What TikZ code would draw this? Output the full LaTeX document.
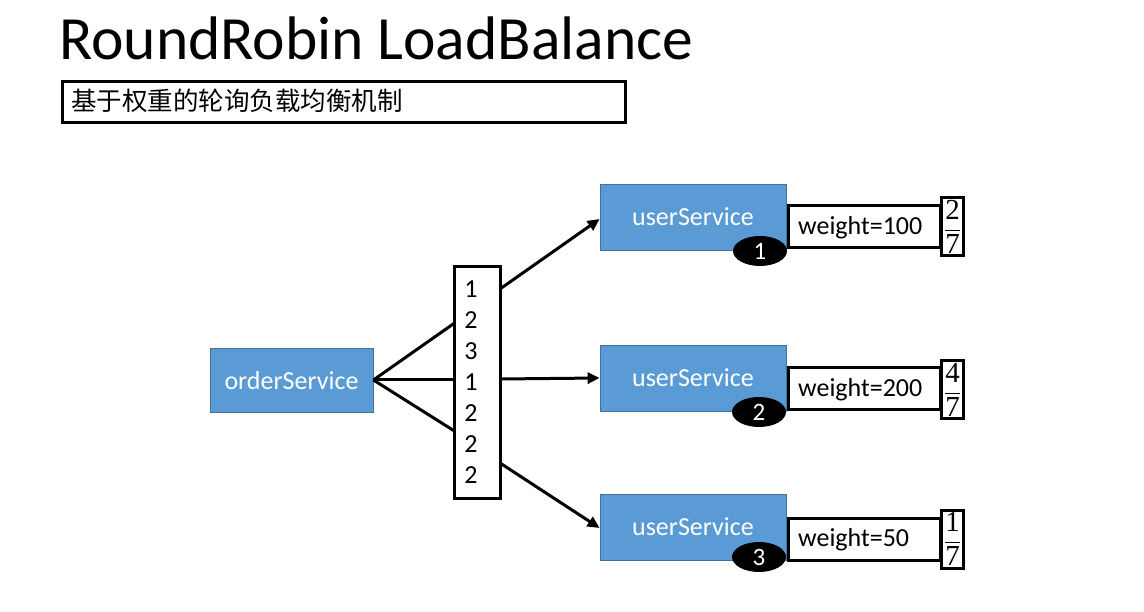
\documentclass[tikz,border=0pt]{standalone}
\usepackage{fontspec}
\setmainfont{Carlito}
\newfontfamily\cjk{Noto Sans CJK SC}
\newfontfamily\fracfont{Liberation Serif}
\usetikzlibrary{shapes.geometric,arrows.meta}
\definecolor{svcblue}{HTML}{5B9BD5}
\definecolor{svcedge}{HTML}{41719C}
\newcommand{\wfrac}[2]{$\displaystyle\frac{\hbox{\fracfont #1}}{\hbox{\fracfont #2}}$}
\begin{document}
\begin{tikzpicture}[x=1pt,y=-1pt,
  svc/.style={draw=svcedge,fill=svcblue,line width=0.8pt,inner sep=0pt},
  svctext/.style={text=white,font=\fontsize{26}{30}\selectfont,inner sep=0pt},
  framebox/.style={draw=black,line width=3pt,inner sep=0pt,fill=white},
  badge/.style={ellipse,fill=black,text=white,minimum width=54pt,minimum height=30pt,inner sep=0pt,font=\fontsize{25}{28}\selectfont},
  conn/.style={line width=3pt},
  arr/.style={line width=3pt,-{Triangle[length=12pt,width=11pt]}},
  num/.style={font=\fontsize{26}{30}\selectfont,inner sep=0pt,anchor=center},
  wtext/.style={font=\fontsize{26}{30}\selectfont,inner sep=0pt,anchor=west},
  frac/.style={framebox,anchor=west,minimum width=22pt,minimum height=58pt,font=\fontsize{29}{32}\selectfont}
]
\useasboundingbox (0,0) rectangle (1144,612);
\fill[white] (0,0) rectangle (1144,612);

% title
\node[anchor=base west,inner sep=0pt,font=\fontsize{61.5}{66}\selectfont] (title) at (59,60) {RoundRobin LoadBalance};

% subtitle box
\node[framebox,anchor=north west,minimum width=563pt,minimum height=41pt] (sub) at (61,80) {};
\node[anchor=west,inner sep=0pt,font=\cjk\fontsize{25.5}{28}\selectfont] (subtext) at (71,101) {基于权重的轮询负载均衡机制};

% order service
\node[svc,minimum width=163pt,minimum height=64pt] (order) at (291.5,380) {};
\node[svctext] (ordertext) at (291.5,381) {orderService};

% connectors behind list
\coordinate (l1) at (456,322);
\coordinate (l2) at (456,380);
\coordinate (l3) at (456,432);
\draw[conn] (order.east) -- (l1);
\draw[conn] (order.east) -- (l2);
\draw[conn] (order.east) -- (l3);

% list box
\node[framebox,minimum width=46pt,minimum height=231pt] (list) at (477,382.5) {};
\foreach \v [count=\i] in {1,2,3,1,2,2,2}{
  \node[num] (n\i) at (471,{258+31*\i}) {\v};
}

% user services
\node[svc,minimum width=186pt,minimum height=66pt] (u1) at (693,217) {};
\node[svc,minimum width=186pt,minimum height=66pt] (u2) at (693,378) {};
\node[svc,minimum width=186pt,minimum height=66pt] (u3) at (693,527) {};
\node[svctext] (t1) at (693,217) {userService};
\node[svctext] (t2) at (693,378) {userService};
\node[svctext] (t3) at (693,527) {userService};

% arrows from list
\coordinate (r1) at (500,289);
\coordinate (r2) at (500,379);
\coordinate (r3) at (500,463);
\draw[arr] (r1) -- (u1.west |- 0,219);
\draw[arr] (r2) -- (u2.west);
\draw[arr] (r3) -- (u3.west |- 0,528);

% weight boxes
\node[framebox,anchor=west,minimum width=152pt,minimum height=42pt] (w1) at (787,227) {};
\node[framebox,anchor=west,minimum width=152pt,minimum height=42pt] (w2) at (787,389) {};
\node[framebox,anchor=west,minimum width=152pt,minimum height=42pt] (w3) at (787,539) {};
\node[wtext] (wt1) at (798,228) {weight=100};
\node[wtext] (wt2) at (798,390) {weight=200};
\node[wtext] (wt3) at (798,540) {weight=50};

% fraction boxes
\node[frac] (f1) at (940,227) {\wfrac{2}{7}};
\node[frac] (f2) at (940,390) {\wfrac{4}{7}};
\node[frac] (f3) at (940,539) {\wfrac{1}{7}};

% badges
\node[badge] (b1) at (760,251) {1};
\node[badge] (b2) at (759,412) {2};
\node[badge] (b3) at (759,557) {3};
\end{tikzpicture}
\end{document}
